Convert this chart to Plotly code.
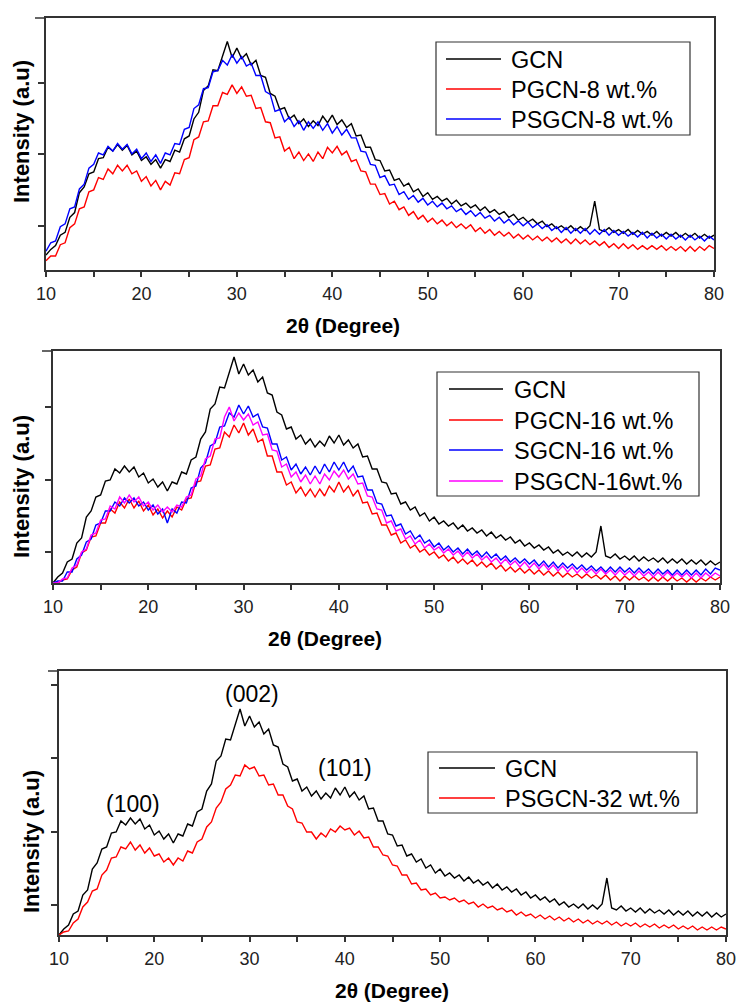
import plotly.graph_objects as go

# ---------------- data ----------------
TWO_THETA = [
    10.0, 10.5, 11.0, 11.5, 12.0, 12.5, 13.0, 13.5, 14.0, 14.5,
    15.0, 15.5, 16.0, 16.5, 17.0, 17.5, 18.0, 18.5, 19.0, 19.5,
    20.0, 20.5, 21.0, 21.5, 22.0, 22.5, 23.0, 23.5, 24.0, 24.5,
    25.0, 25.5, 26.0, 26.5, 27.0, 27.5, 28.0, 28.5, 29.0, 29.5,
    30.0, 30.5, 31.0, 31.5, 32.0, 32.5, 33.0, 33.5, 34.0, 34.5,
    35.0, 35.5, 36.0, 36.5, 37.0, 37.5, 38.0, 38.5, 39.0, 39.5,
    40.0, 40.5, 41.0, 41.5, 42.0, 42.5, 43.0, 43.5, 44.0, 44.5,
    45.0, 45.5, 46.0, 46.5, 47.0, 47.5, 48.0, 48.5, 49.0, 49.5,
    50.0, 50.5, 51.0, 51.5, 52.0, 52.5, 53.0, 53.5, 54.0, 54.5,
    55.0, 55.5, 56.0, 56.5, 57.0, 57.5, 58.0, 58.5, 59.0, 59.5,
    60.0, 60.5, 61.0, 61.5, 62.0, 62.5, 63.0, 63.5, 64.0, 64.5,
    65.0, 65.5, 66.0, 66.5, 67.0, 67.5, 68.0, 68.5, 69.0, 69.5,
    70.0, 70.5, 71.0, 71.5, 72.0, 72.5, 73.0, 73.5, 74.0, 74.5,
    75.0, 75.5, 76.0, 76.5, 77.0, 77.5, 78.0, 78.5, 79.0, 79.5,
    80.0,
]

GCN = [
    0, 6, 10, 21, 24, 40, 45, 66, 72, 86,
    88, 102, 103, 114, 110, 117, 111, 116, 106, 110,
    100, 104, 96, 101, 92, 101, 99, 111, 109, 123,
    126, 144, 151, 174, 179, 196, 195, 211, 226, 209,
    219, 208, 213, 201, 206, 190, 188, 171, 168, 154,
    156, 144, 148, 139, 144, 136, 142, 137, 147, 140,
    148, 138, 143, 135, 139, 126, 127, 114, 114, 101,
    100, 89, 90, 79, 81, 73, 76, 67, 70, 62,
    66, 59, 62, 57, 60, 54, 58, 52, 55, 50,
    53, 47, 51, 45, 48, 43, 46, 40, 43, 37,
    40, 35, 38, 33, 36, 30, 33, 28, 31, 27,
    31, 26, 30, 26, 31, 57, 27, 25, 29, 24,
    27, 23, 27, 22, 26, 22, 25, 21, 25, 20,
    24, 20, 24, 19, 23, 19, 23, 18, 22, 18,
    21,
]

PGCN_8 = [
    -6, -1, -1, 11, 13, 29, 33, 49, 51, 67,
    69, 82, 80, 91, 86, 95, 89, 95, 86, 89,
    78, 83, 73, 79, 69, 78, 74, 87, 86, 101,
    103, 122, 125, 141, 142, 158, 158, 172, 170, 180,
    171, 178, 168, 169, 155, 156, 141, 140, 124, 125,
    110, 114, 102, 109, 100, 107, 99, 109, 102, 114,
    108, 115, 106, 110, 99, 101, 89, 88, 75, 75,
    64, 65, 54, 57, 48, 51, 42, 46, 38, 42,
    35, 39, 33, 37, 31, 35, 29, 33, 28, 32,
    25, 29, 23, 27, 21, 25, 20, 24, 18, 22,
    17, 21, 16, 20, 15, 19, 14, 18, 13, 17,
    12, 17, 12, 16, 11, 15, 10, 14, 8, 12,
    7, 12, 7, 11, 6, 10, 6, 10, 6, 10,
    5, 9, 5, 9, 4, 9, 4, 9, 5, 10,
    7,
]

PSGCN_8 = [
    4, 13, 15, 30, 33, 49, 51, 70, 75, 92,
    96, 108, 106, 115, 110, 118, 112, 117, 107, 112,
    102, 108, 99, 106, 97, 108, 106, 118, 117, 133,
    135, 155, 159, 176, 177, 194, 195, 206, 201, 212,
    203, 210, 200, 203, 190, 190, 173, 170, 152, 154,
    141, 146, 136, 142, 132, 141, 134, 141, 132, 139,
    129, 136, 127, 133, 124, 124, 110, 109, 96, 95,
    82, 84, 74, 75, 64, 67, 59, 63, 56, 60,
    53, 57, 51, 55, 49, 52, 46, 49, 43, 47,
    41, 45, 39, 42, 36, 40, 34, 38, 32, 36,
    31, 35, 29, 33, 28, 32, 26, 30, 24, 29,
    23, 28, 23, 28, 22, 27, 22, 27, 21, 26,
    21, 25, 20, 24, 19, 24, 18, 23, 18, 22,
    17, 22, 17, 21, 16, 21, 16, 20, 15, 20,
    16,
]

PGCN_16 = [
    0, 0, 3, 4, 13, 16, 30, 33, 46, 47,
    60, 60, 74, 70, 81, 75, 84, 75, 82, 72,
    78, 68, 74, 65, 72, 66, 76, 73, 84, 85,
    101, 102, 117, 118, 134, 135, 151, 146, 158, 150,
    160, 148, 154, 141, 144, 127, 127, 111, 111, 98,
    101, 90, 96, 87, 94, 86, 94, 87, 97, 91,
    101, 91, 97, 87, 93, 80, 81, 69, 70, 58,
    58, 48, 50, 40, 43, 35, 38, 31, 34, 28,
    31, 25, 28, 22, 26, 20, 24, 19, 23, 17,
    21, 16, 20, 14, 18, 12, 16, 11, 15, 10,
    14, 9, 13, 8, 12, 7, 11, 6, 10, 6,
    9, 5, 9, 5, 8, 4, 8, 3, 7, 2,
    7, 3, 7, 3, 6, 2, 6, 2, 6, 2,
    6, 2, 5, 1, 5, 1, 5, 2, 6, 3,
    6,
]

SGCN_16 = [
    0, 2, 2, 11, 11, 24, 28, 41, 44, 58,
    60, 72, 72, 81, 77, 85, 80, 85, 77, 81,
    73, 78, 69, 74, 60, 74, 70, 81, 80, 95,
    97, 115, 120, 137, 140, 156, 157, 170, 166, 178,
    169, 177, 166, 169, 156, 155, 139, 139, 123, 126,
    113, 119, 109, 116, 108, 117, 109, 119, 111, 121,
    113, 121, 111, 117, 106, 107, 93, 93, 80, 79,
    67, 68, 57, 59, 49, 52, 44, 48, 40, 43,
    36, 40, 33, 37, 31, 35, 29, 34, 28, 32,
    26, 31, 25, 29, 23, 27, 21, 25, 20, 24,
    19, 23, 17, 22, 16, 21, 15, 20, 15, 19,
    14, 18, 13, 17, 12, 16, 11, 16, 11, 16,
    11, 15, 10, 15, 10, 14, 9, 14, 9, 13,
    8, 13, 8, 13, 8, 13, 8, 14, 9, 15,
    13,
]

PSGCN_16 = [
    0, 0, 4, 5, 15, 18, 31, 34, 48, 50,
    63, 64, 77, 74, 86, 80, 88, 81, 86, 77,
    81, 73, 78, 71, 76, 71, 78, 76, 86, 88,
    104, 107, 124, 127, 144, 145, 166, 176, 162, 170,
    163, 169, 158, 161, 148, 149, 133, 132, 116, 119,
    106, 111, 101, 108, 99, 107, 99, 109, 103, 112,
    106, 113, 104, 109, 99, 100, 87, 86, 74, 73,
    60, 62, 52, 54, 44, 47, 39, 43, 35, 39,
    33, 36, 30, 34, 28, 32, 26, 31, 25, 29,
    23, 27, 21, 25, 19, 24, 18, 22, 16, 21,
    15, 20, 14, 19, 13, 18, 12, 17, 11, 16,
    10, 15, 10, 14, 9, 14, 9, 13, 8, 13,
    8, 12, 7, 12, 7, 11, 6, 11, 6, 11,
    6, 10, 6, 10, 5, 10, 5, 10, 6, 10,
    7,
]

PSGCN_32 = [
    0, 3, 4, 12, 16, 28, 33, 44, 46, 60,
    65, 77, 78, 88, 86, 93, 85, 90, 82, 87,
    79, 81, 73, 77, 70, 77, 74, 84, 82, 93,
    96, 108, 113, 127, 133, 146, 150, 160, 159, 170,
    166, 168, 159, 160, 150, 151, 140, 140, 129, 126,
    113, 112, 103, 103, 96, 102, 98, 106, 103, 109,
    105, 107, 100, 104, 97, 98, 88, 88, 80, 79,
    70, 69, 60, 60, 51, 52, 45, 46, 40, 42,
    37, 38, 35, 37, 33, 35, 31, 33, 28, 31,
    27, 29, 25, 27, 23, 25, 20, 23, 19, 21,
    17, 20, 16, 19, 15, 18, 14, 17, 13, 16,
    12, 15, 11, 14, 11, 14, 10, 13, 9, 12,
    9, 12, 8, 11, 8, 11, 7, 10, 7, 10,
    6, 9, 6, 9, 5, 8, 5, 8, 5, 8,
    6,
]

X_TICKS = [10, 20, 30, 40, 50, 60, 70, 80]
PEAK_LABELS = ["(100)", "(002)", "(101)"]
PEAK_POS = [17.8, 30.25, 40.0]
PEAK_LABEL_Y = [131, 241, 167]

PANEL1 = [("GCN", GCN, "#000000"), ("PGCN-8 wt.%", PGCN_8, "#ff0000"),
          ("PSGCN-8 wt.%", PSGCN_8, "#0000ff")]
PANEL2 = [("GCN", GCN, "#000000"), ("PGCN-16 wt.%", PGCN_16, "#ff0000"),
          ("SGCN-16 wt.%", SGCN_16, "#0000ff"), ("PSGCN-16wt.%", PSGCN_16, "#ff00ff")]
PANEL3 = [("GCN", GCN, "#000000"), ("PSGCN-32 wt.%", PSGCN_32, "#ff0000")]

# ---------------- layout helpers ----------------
W, H = 736, 1002
FONT = "Liberation Sans, Arial, sans-serif"
AX = "#333333"


def fx(p):
    return p / W


def fy(p):
    return 1 - p / H


panels = [
    dict(series=PANEL1, left=46, right=714, top=18, bottom=270,
         yrange=[-15.8, 250.8], ytick0=30.7, ydtick=75.7, rstep=55,
         box=(436, 42, 690, 135), rows=[59, 89, 119], line=(446, 501), text_x=509,
         xt=(343, 325), yt=(21, 132), ext=35),
    dict(series=PANEL2, left=53, right=720, top=351, bottom=583,
         yrange=[0, 232], ytick0=31, ydtick=72.5, rstep=54.6,
         box=(437, 372, 699, 496), rows=[389, 420, 450, 481], line=(449, 503), text_x=512,
         xt=(325, 638), yt=(21, 487), ext=42),
    dict(series=PANEL3, left=59, right=726, top=671, bottom=935,
         yrange=[0, 264], ytick0=30, ydtick=73.5, rstep=54.5,
         box=(428, 752, 697, 813), rows=[768, 798], line=(439, 495), text_x=503,
         xt=(392, 990), yt=(31, 842), ext=48),
]

fig = go.Figure()
layout = {}
annotations = []
shapes = []

for i, p in enumerate(panels):
    k = i + 1
    xname = "x" if k == 1 else f"x{k}"
    yname = "y" if k == 1 else f"y{k}"
    xkey = "xaxis" if k == 1 else f"xaxis{k}"
    ykey = "yaxis" if k == 1 else f"yaxis{k}"

    for name, vals, color in p["series"]:
        fig.add_trace(go.Scatter(
            x=TWO_THETA, y=vals, mode="lines", name=name,
            line=dict(color=color, width=1.4),
            xaxis=xname, yaxis=yname, showlegend=False,
        ))

    xdom = [fx(p["left"]), fx(p["right"])]
    ydom = [fy(p["bottom"]), fy(p["top"])]
    layout[xkey] = dict(
        domain=xdom, range=[10, 80], anchor=yname, automargin=False,
        showline=True, linecolor=AX, linewidth=1.5, mirror=True,
        ticks="outside", ticklen=5, tickwidth=1.5, tickcolor=AX,
        tickvals=X_TICKS, ticklabelstandoff=2, ticklabeloverflow="allow",
        minor=dict(dtick=5, tick0=5, ticks="outside", ticklen=5,
                   tickwidth=1.5, tickcolor=AX),
        tickfont=dict(family=FONT, size=18, color="#222222"),
        showgrid=False, zeroline=False, fixedrange=True,
    )
    layout[ykey] = dict(
        domain=ydom, range=p["yrange"], anchor=xname, automargin=False,
        showline=True, linecolor=AX, linewidth=1.5, mirror=True,
        ticks="outside", ticklen=6, tickwidth=1.5, tickcolor=AX,
        tick0=p["ytick0"], dtick=p["ydtick"], showticklabels=False,
        showgrid=False, zeroline=False, fixedrange=True,
    )
    # secondary (top / right) frame axes with inward ticks
    tk = 3 + k
    layout[f"xaxis{tk}"] = dict(
        overlaying=xname, anchor=yname, side="top", range=[0, 10], automargin=False,
        ticks="inside", tick0=0, dtick=2, ticklen=9, tickwidth=1.5, tickcolor=AX,
        minor=dict(dtick=1, tick0=0, ticks="inside", ticklen=4,
                   tickwidth=1.5, tickcolor=AX),
        showticklabels=False, showline=False, showgrid=False, zeroline=False,
        fixedrange=True,
    )
    layout[f"yaxis{tk}"] = dict(
        overlaying=yname, anchor=xname, side="right", automargin=False,
        range=[0, (p["bottom"] - p["top"]) / p["rstep"]],
        ticks="inside", tick0=0, dtick=2, ticklen=9, tickwidth=1.5, tickcolor=AX,
        minor=dict(dtick=1, tick0=0, ticks="inside", ticklen=4,
                   tickwidth=1.5, tickcolor=AX),
        showticklabels=False, showline=False, showgrid=False, zeroline=False,
        fixedrange=True,
    )

    # legend box drawn in paper coordinates
    bx0, by0, bx1, by1 = p["box"]
    shapes.append(dict(
        type="rect", xref="paper", yref="paper",
        x0=fx(bx0), x1=fx(bx1), y0=fy(by1), y1=fy(by0),
        line=dict(color=AX, width=1.2), fillcolor="white", layer="above",
    ))
    for (name, _vals, color), ry in zip(p["series"], p["rows"]):
        shapes.append(dict(
            type="line", xref="paper", yref="paper",
            x0=fx(p["line"][0]), x1=fx(p["line"][1]), y0=fy(ry), y1=fy(ry),
            line=dict(color=color, width=1.5), layer="above",
        ))
        annotations.append(dict(
            text=name, x=fx(p["text_x"]), y=fy(ry + 1),
            xref="paper", yref="paper", xanchor="left", yanchor="middle",
            showarrow=False, font=dict(family=FONT, size=23.5, color="#000000"),
        ))

    annotations.append(dict(
        text="<b>2θ (Degree)</b>", x=fx(p["xt"][0]), y=fy(p["xt"][1]),
        xref="paper", yref="paper", xanchor="center", yanchor="middle",
        showarrow=False, font=dict(family=FONT, size=21, color="#000000"),
    ))
    annotations.append(dict(
        text="<b>Intensity (a.u)</b>", x=fx(p["yt"][0]), y=fy(p["yt"][1]),
        xref="paper", yref="paper", xanchor="center", yanchor="middle",
        textangle=-90, showarrow=False,
        font=dict(family=FONT, size=22, color="#000000"),
    ))
    shapes.append(dict(
        type="line", xref="paper", yref="paper",
        x0=fx(p["ext"]), x1=fx(p["left"]), y0=fy(p["top"]), y1=fy(p["top"]),
        line=dict(color=AX, width=1.5),
    ))

for lab, xp, yp in zip(PEAK_LABELS, PEAK_POS, PEAK_LABEL_Y):
    annotations.append(dict(
        text=lab, x=xp, y=yp, xref="x3", yref="y3",
        xanchor="center", yanchor="middle", showarrow=False,
        font=dict(family=FONT, size=23, color="#000000"),
    ))

fig.update_layout(
    template="none",
    width=W, height=H, autosize=False, margin=dict(l=0, r=0, t=0, b=0, pad=0),
    paper_bgcolor="white", plot_bgcolor="white",
    font=dict(family=FONT, color="#000000"),
    showlegend=False, annotations=annotations, shapes=shapes,
    **layout,
)

fig.write_html(
    "out.html",
    config={"displayModeBar": False, "responsive": False},
    post_script="document.body.style.margin='0';document.body.style.padding='0';"
                "document.body.style.overflow='hidden';",
)
